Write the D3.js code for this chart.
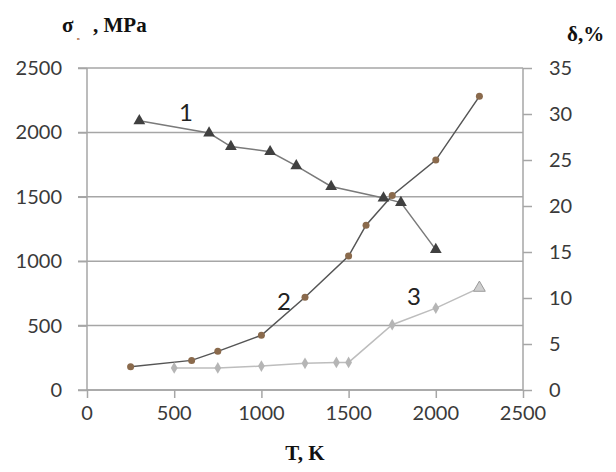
<!DOCTYPE html>
<html>
<head>
  <title>Strength and elongation vs temperature</title>
  <script src="https://d3js.org/d3.v7.min.js"></script>
  <style>
    body { margin: 0; background: #fff; }
    .grid line, .axis line, .axis path { stroke: #a6a6a6; stroke-width: 1.5px; }
    .ticktext { font: 20px Lato, sans-serif; fill: #3a3a3a; }
    .title { font: bold 21px "Liberation Serif", "DejaVu Serif", serif; fill: #111; }
    .serieslabel { font: 24px Lato, sans-serif; fill: #222; }
  </style>
</head>
<body>
  <script>
    var width = 616,
        height = 472;

    // series 1: sigma (MPa), triangles
    var temp1 = [300, 700, 825, 1050, 1200, 1400, 1700, 1800, 2000];
    var sigma1 = [2090, 1995, 1890, 1850, 1740, 1580, 1490, 1455, 1090];

    // series 2: sigma (MPa), circles
    var temp2 = [250, 600, 750, 1000, 1250, 1500, 1600, 1750, 2000, 2250];
    var sigma2 = [180, 230, 300, 425, 720, 1040, 1280, 1510, 1785, 2280];

    // series 3: delta (%), diamonds (last point triangle)
    var temp3 = [500, 750, 1000, 1250, 1430, 1500, 1750, 2000, 2250];
    var delta3 = [2.4, 2.4, 2.6, 2.9, 3.0, 3.0, 7.1, 8.9, 11.1];

    var xTicks = [0, 500, 1000, 1500, 2000, 2500];
    var leftTicks = [0, 500, 1000, 1500, 2000, 2500];
    var rightTicks = [0, 5, 10, 15, 20, 25, 30, 35];

    var plotLeft = 87, plotRight = 523, plotTop = 68, plotBottom = 390;

    var x = d3.scaleLinear().domain([0, 2500]).range([plotLeft, plotRight]);
    var yL = d3.scaleLinear().domain([0, 2500]).range([plotBottom, plotTop]);
    var yR = d3.scaleLinear().domain([0, 35]).range([plotBottom, plotTop]);

    var svg = d3.select("body").append("svg")
        .attr("width", width)
        .attr("height", height);

    // horizontal grid (left axis ticks extend left of axis)
    svg.append("g").attr("class", "grid")
      .selectAll("line").data(leftTicks).enter().append("line")
        .attr("x1", plotLeft - 9).attr("x2", plotRight)
        .attr("y1", function(d) { return yL(d); })
        .attr("y2", function(d) { return yL(d); });

    // left axis
    svg.append("g").attr("class", "axis")
        .attr("transform", "translate(" + plotLeft + ",0)")
        .call(d3.axisLeft(yL).tickValues(leftTicks).tickSize(9).tickFormat(""))
        .call(function(g) { g.select(".domain").attr("d", "M0," + plotTop + "V" + plotBottom); });

    // right axis
    svg.append("g").attr("class", "axis")
        .attr("transform", "translate(" + plotRight + ",0)")
        .call(d3.axisRight(yR).tickValues(rightTicks).tickSize(9).tickFormat(""))
        .call(function(g) { g.select(".domain").attr("d", "M0," + plotTop + "V" + plotBottom); });

    // bottom axis
    svg.append("g").attr("class", "axis")
        .attr("transform", "translate(0," + plotBottom + ")")
        .call(d3.axisBottom(x).tickValues(xTicks).tickSize(8).tickFormat(""))
        .call(function(g) { g.select(".domain").attr("d", "M" + plotLeft + ",0H" + plotRight); });

    // tick labels
    svg.selectAll(".ltick").data(leftTicks).enter().append("text")
        .attr("class", "ticktext")
        .attr("x", 62).attr("y", function(d) { return yL(d); })
        .attr("dy", "0.35em").attr("text-anchor", "end")
        .text(function(d) { return d; });

    svg.selectAll(".rtick").data(rightTicks).enter().append("text")
        .attr("class", "ticktext")
        .attr("x", 549).attr("y", function(d) { return yR(d); })
        .attr("dy", "0.35em").attr("text-anchor", "start")
        .text(function(d) { return d; });

    svg.selectAll(".xtick").data(xTicks).enter().append("text")
        .attr("class", "ticktext")
        .attr("x", function(d) { return x(d); }).attr("y", 413)
        .attr("dy", "0.35em").attr("text-anchor", "middle")
        .text(function(d) { return d; });

    // titles
    svg.append("text").attr("class", "title").attr("x", 62).attr("y", 32).text("σ");
    svg.append("text").attr("class", "title").attr("x", 77).attr("y", 40)
        .style("font-size", "5px").style("fill", "#a0522d").text("в");
    svg.append("text").attr("class", "title").attr("x", 93).attr("y", 32).text(", MPa");
    svg.append("text").attr("class", "title").attr("x", 567).attr("y", 41).text("δ,%");
    svg.append("text").attr("class", "title").attr("x", x(1250)).attr("y", 460)
        .attr("text-anchor", "middle").text("T, K");

    // lines
    function pts(ts, vs) { return ts.map(function(t, i) { return [t, vs[i]]; }); }
    var s1 = pts(temp1, sigma1), s2 = pts(temp2, sigma2), s3 = pts(temp3, delta3);

    var lineL = d3.line().x(function(d) { return x(d[0]); }).y(function(d) { return yL(d[1]); });
    var lineR = d3.line().x(function(d) { return x(d[0]); }).y(function(d) { return yR(d[1]); });

    svg.append("path").datum(s3).attr("d", lineR)
        .attr("fill", "none").attr("stroke", "#bdbdbd").attr("stroke-width", 1.5);
    svg.append("path").datum(s1).attr("d", lineL)
        .attr("fill", "none").attr("stroke", "#7a7a7a").attr("stroke-width", 1.5);
    svg.append("path").datum(s2).attr("d", lineL)
        .attr("fill", "none").attr("stroke", "#555").attr("stroke-width", 1.5);

    var tri = d3.symbol().type(d3.symbolTriangle).size(60);
    var dia = d3.symbol().type(d3.symbolDiamond).size(40);

    // series 3 markers
    svg.selectAll(".m3").data(s3).enter().append("path")
        .attr("transform", function(d) { return "translate(" + x(d[0]) + "," + yR(d[1]) + ")"; })
        .attr("d", function(d, i) { return i === s3.length - 1 ? tri() : dia(); })
        .attr("fill", function(d, i) { return i === s3.length - 1 ? "#cfcfcf" : "#b5b5b5"; })
        .attr("stroke", function(d, i) { return i === s3.length - 1 ? "#9a9a9a" : "none"; });

    // series 1 markers
    svg.selectAll(".m1").data(s1).enter().append("path")
        .attr("transform", function(d) { return "translate(" + x(d[0]) + "," + yL(d[1]) + ")"; })
        .attr("d", tri)
        .attr("fill", "#404040");

    // series 2 markers
    svg.selectAll(".m2").data(s2).enter().append("circle")
        .attr("cx", function(d) { return x(d[0]); })
        .attr("cy", function(d) { return yL(d[1]); })
        .attr("r", 3.5)
        .attr("fill", "#8a6a4c");

    // series labels
    svg.append("text").attr("class", "serieslabel").attr("x", 186).attr("y", 121)
        .attr("text-anchor", "middle").text("1");
    svg.append("text").attr("class", "serieslabel").attr("x", 284).attr("y", 310)
        .attr("text-anchor", "middle").text("2");
    svg.append("text").attr("class", "serieslabel").attr("x", 414).attr("y", 305)
        .attr("text-anchor", "middle").text("3");
  </script>
</body>
</html>
